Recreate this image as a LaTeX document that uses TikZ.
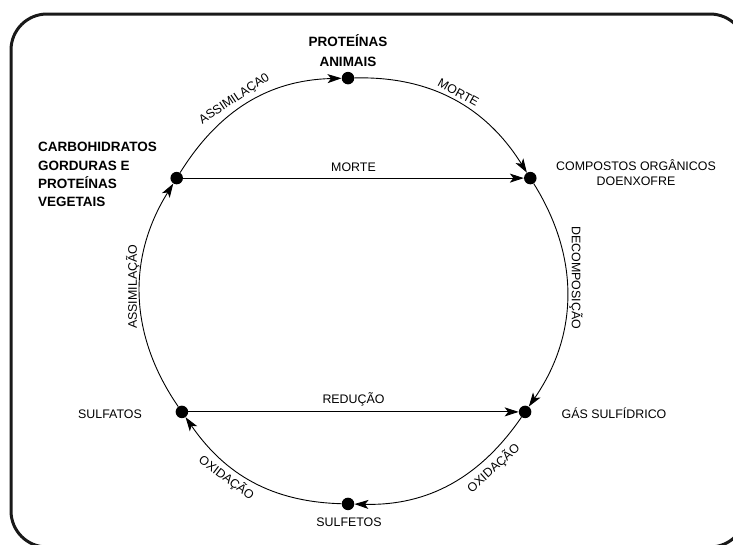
\documentclass[tikz,border=0pt]{standalone}
\usepackage{fontspec}
\setmainfont{Liberation Sans}
\usetikzlibrary{arrows.meta}
\begin{document}
\begin{tikzpicture}[x=1pt,y=1pt,
  dot/.style={circle,fill=black,inner sep=0pt,minimum size=12.5pt},
  lbl/.style={font=\fontsize{12.4}{15}\selectfont, inner sep=0pt},
  blbl/.style={font=\fontsize{13.5}{18.3}\selectfont\bfseries, inner sep=0pt},
  arr/.style={line width=0.9pt, -{Stealth[length=14pt,width=9pt,inset=3.5pt]}},
  ]
\useasboundingbox (0,0) rectangle (733,-544);
\draw[line width=3pt, rounded corners=36pt, black!90] (11,-14) rectangle (746,-547);
% points of the cycle
\node[dot] (T)  at (348.0,-78.1)  {};
\node[dot] (TL) at (176.7,-178.1) {};
\node[dot] (TR) at (530.3,-178.1) {};
\node[dot] (BR) at (525.1,-411.9) {};
\node[dot] (BL) at (181.9,-411.9) {};
\node[dot] (B)  at (348.0,-503.9) {};
% names
\node[blbl, align=center] (pa) at (348,-50.7) {PROTEÍNAS\\[1.7pt]ANIMAIS};
\node[blbl, align=left, anchor=west] (cg) at (38,-174.5) {CARBOHIDRATOS\\GORDURAS E\\PROTEÍNAS\\VEGETAIS};
\node[lbl, align=center] (co) at (636,-173) {COMPOSTOS ORGÂNICOS\\DOENXOFRE};
\node[lbl, anchor=base] (sa) at (110,-418.5) {SULFATOS};
\node[lbl, anchor=base] (gs) at (614,-418.5) {GÁS SULFÍDRICO};
\node[lbl, anchor=base] (sf) at (349,-526.5) {SULFETOS};
% connectors
\draw[arr] (TL) to[out=58,in=181.5]
  node[lbl,sloped,above=4pt,pos=0.45] {ASSIMILAÇA0} (T);
\draw[arr] (T) to[out=1.5,in=122]
  node[lbl,sloped,above=4pt,pos=0.5] {MORTE} (TR);
\draw[arr] (TR) to[out=-58,in=55.4]
  node[lbl,rotate=-90,anchor=south,outer sep=2.5pt,pos=0.42] {DECOMPOSIÇÃO} (BR);
\draw[arr] (BR) to[out=-124.6,in=-1.5]
  node[lbl,sloped,below=5pt,pos=0.27] {OXIDAÇÃO} (B);
\draw[arr] (B) to[out=178.5,in=-55.4]
  node[lbl,sloped,below=4pt,pos=0.63] {OXIDAÇÃO} (BL);
\draw[arr] (BL) to[out=124.6,in=-122]
  node[lbl,rotate=90,anchor=south,outer sep=0.5pt,pos=0.54] {ASSIMILAÇÃO} (TL);
\draw[arr] (TL) -- node[lbl,above=6pt] {MORTE} (TR);
\draw[arr] (BL) -- node[lbl,above=5pt] {REDUÇÃO} (BR);
\end{tikzpicture}
\end{document}
